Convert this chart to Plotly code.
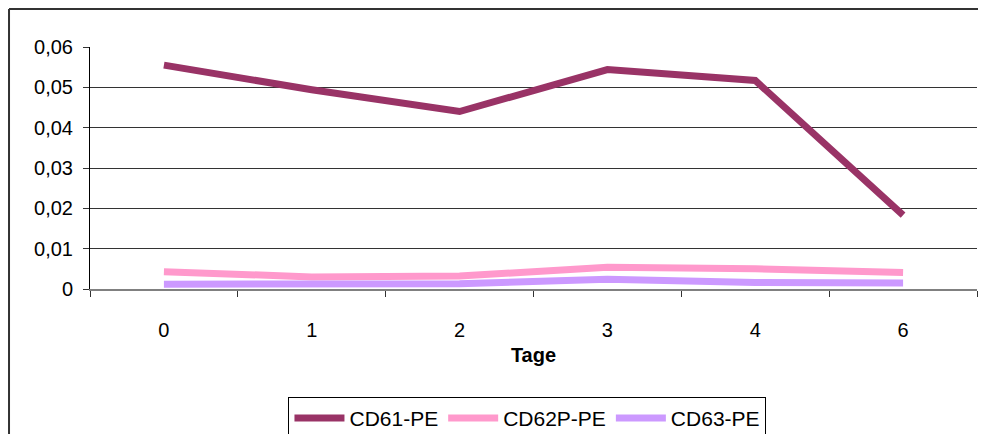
import plotly.graph_objects as go

categories = ["0", "1", "2", "3", "4", "6"]
cd61 = [0.0555, 0.0494, 0.0440, 0.0544, 0.0517, 0.0183]
cd62p = [0.0043, 0.0030, 0.0032, 0.0054, 0.0050, 0.0041]
cd63 = [0.0012, 0.0013, 0.0013, 0.0024, 0.0016, 0.0015]
yticks = [0, 0.01, 0.02, 0.03, 0.04, 0.05, 0.06]
ytick_labels = ["0", "0,01", "0,02", "0,03", "0,04", "0,05", "0,06"]

FONT = "Liberation Sans, Arial, sans-serif"

fig = go.Figure()
for name, vals, col in [("CD61-PE", cd61, "#993366"),
                        ("CD62P-PE", cd62p, "#FF99CC"),
                        ("CD63-PE", cd63, "#CC99FF")]:
    fig.add_trace(go.Scatter(x=categories, y=vals, name=name, mode="lines",
                             line=dict(color=col, width=7)))

fig.update_layout(
    width=986, height=434,
    margin=dict(l=82, r=17, t=39, b=153, autoexpand=False),
    paper_bgcolor="white", plot_bgcolor="white",
    font=dict(family=FONT, size=20, color="black"),
    showlegend=True,
    legend=dict(orientation="h", x=0.4932, xanchor="center", y=-0.446, yanchor="top",
                bordercolor="black", borderwidth=1, font=dict(size=21),
                bgcolor="white", itemwidth=50, tracegroupgap=0),
    shapes=[
        dict(type="line", xref="paper", yref="paper",
             x0=-0.0913, x1=-0.0913, y0=-0.8, y1=1.157,
             line=dict(color="#333333", width=2), layer="below"),
        dict(type="line", xref="paper", yref="paper",
             x0=-0.0913, x1=1.1, y0=1.157, y1=1.157,
             line=dict(color="#333333", width=2), layer="below"),
    ],
)
fig.update_xaxes(type="category", tickson="boundaries", ticks="outside", ticklen=6,
                 tickcolor="#333333", showline=True, linecolor="#808080", linewidth=2,
                 showgrid=False, ticklabelstandoff=22, automargin=False,
                 tickfont=dict(size=20),
                 title=dict(text="<b>Tage</b>", font=dict(size=20), standoff=8),
                 range=[-0.5, 5.5], fixedrange=True)
fig.update_yaxes(range=[0, 0.06], tickvals=yticks, ticktext=ytick_labels,
                 ticks="outside", ticklen=6, tickcolor="#333333", automargin=False,
                 showline=True, linecolor="black", linewidth=1,
                 showgrid=True, gridcolor="#333333", gridwidth=1,
                 zeroline=False, ticklabelstandoff=6, tickfont=dict(size=20))

fig.write_html(
    "out.html",
    config={"displayModeBar": False},
    post_script="document.documentElement.style.overflow='hidden';"
                "document.body.style.overflow='hidden';",
)
